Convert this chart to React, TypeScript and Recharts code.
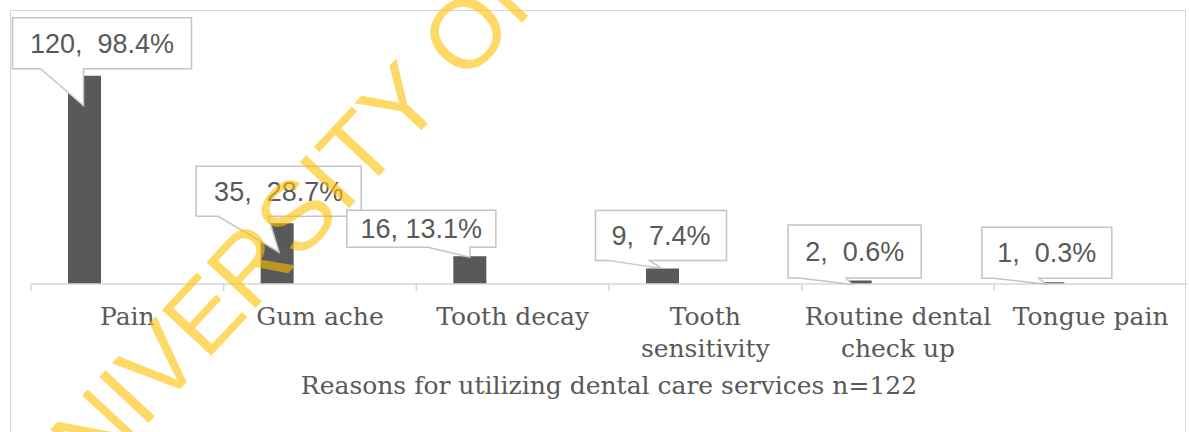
import React from 'react';
import { BarChart, Bar, XAxis, YAxis, LabelList } from 'recharts';

const categories = ['Pain', 'Gum ache', 'Tooth decay', 'Tooth sensitivity', 'Routine dental check up', 'Tongue pain'];
const tickLabelLines = [['Pain'], ['Gum ache'], ['Tooth decay'], ['Tooth', 'sensitivity'], ['Routine dental', 'check up'], ['Tongue pain']];
const counts = [120, 35, 16, 9, 2, 1];
const percents = [98.4, 28.7, 13.1, 7.4, 0.6, 0.3];
const separators = [',\u00A0\u00A0', ',\u00A0\u00A0', ',\u00A0', ',\u00A0\u00A0', ',\u00A0\u00A0', ',\u00A0\u00A0'];
const axisTitle = 'Reasons for utilizing dental care services n=122';
const watermark = 'UNIVERSITY OF';

const data = categories.map((c, i) => ({
  name: c,
  count: counts[i],
  share: 0,
  label: `${counts[i]}${separators[i]}${percents[i]}%`,
}));

// callout geometry relative to bar top-centre (style/layout only)
const callout = [
  { l: -72, r: 107, t: -58, b: -7, a: -44, c: -1, tx: -1, ty: 30 },
  { l: -81, r: 84, t: -57, b: -7, a: -59, c: -9, tx: 2, ty: 29 },
  { l: -123, r: 26, t: -46, b: -9, a: -42, c: 0, tx: 0, ty: 1 },
  { l: -67, r: 64, t: -58, b: -8, a: -55, c: -13, tx: -1, ty: 0 },
  { l: -67, r: 66, t: -55.5, b: -2.5, a: -56, c: -9, tx: -3, ty: 4 },
  { l: -66, r: 64, t: -55, b: -4, a: -54, c: -9, tx: -2, ty: 2 },
];

const GRAY = '#595959';
const LIGHT = '#d6d6d6';

const Callout = (props: any) => {
  const { x, y, width, index, value } = props;
  const g = callout[index];
  if (!g) return null;
  const cx = x + width / 2;
  const L = cx + g.l, R = cx + g.r, T = y + g.t, B = y + g.b;
  const d = `M${L},${T} H${R} V${B} H${cx + g.c} L${cx + g.tx},${y + g.ty} L${cx + g.a},${B} H${L} Z`;
  return (
    <g>
      <path d={d} fill="#fff" stroke="#c4c4c4" strokeWidth={1.5} />
      <text x={(L + R) / 2} y={(T + B) / 2 + 9.5} textAnchor="middle" fontFamily="'Liberation Sans', Arial, sans-serif" fontSize={27} fill={GRAY}>
        {value}
      </text>
    </g>
  );
};

const Tick = (props: any) => {
  const { x, y, payload, index } = props;
  const half = payload && payload.offset ? payload.offset : 96.3;
  const lines = tickLabelLines[index] || [String(payload.value)];
  return (
    <g>
      <line x1={x - half} x2={x - half} y1={y - 6} y2={y + 1} stroke={LIGHT} strokeWidth={1.5} />
      {lines.map((ln, i) => (
        <text key={i} x={x} y={y + 35 + i * 32} textAnchor="middle" fontFamily="'DejaVu Serif', serif" fontSize={25} fill={GRAY}>
          {ln}
        </text>
      ))}
    </g>
  );
};

export default function App() {
  return (
    <div style={{ position: 'absolute', left: 0, top: 0, width: 1189, height: 432, overflow: 'hidden', background: '#fff' }}>
      <div style={{ position: 'absolute', left: 10, top: 10, width: 1176, height: 440, border: `1.5px solid ${LIGHT}`, boxSizing: 'border-box' }} />
      <div style={{ position: 'absolute', left: 0, top: 0 }}>
        <BarChart width={1190} height={432} data={data} margin={{ top: 41, right: 3, left: 31, bottom: 48 }} barSize={33} barGap={53}>
          <YAxis hide domain={[0, 140]} />
          <XAxis
            dataKey="name"
            axisLine={{ stroke: LIGHT, strokeWidth: 1.5 }}
            tickLine={false}
            tickSize={6}
            tickMargin={0}
            height={100}
            interval={0}
            tick={<Tick />}
            label={(p: any) => {
              const vb = p.viewBox || { x: 31, y: 284, width: 1156 };
              return (
                <text x={vb.x + vb.width / 2} y={vb.y + 110} textAnchor="middle" fontFamily="'DejaVu Serif', serif" fontSize={25} fill={GRAY}>
                  {axisTitle}
                </text>
              );
            }}
          />
          <Bar dataKey="count" fill={GRAY} isAnimationActive={false}>
            <LabelList dataKey="label" content={<Callout />} />
          </Bar>
          <Bar dataKey="share" fill="transparent" isAnimationActive={false} />
        </BarChart>
      </div>
      <svg width={1189} height={432} style={{ position: 'absolute', left: 0, top: 0, pointerEvents: 'none' }}>
        <text x={46} y={533} transform="rotate(-47 46 533)" fontFamily="'Liberation Sans', Arial, sans-serif" fontSize={98} fill="#FFC000" fillOpacity={0.6}>
          {watermark}
        </text>
      </svg>
    </div>
  );
}
